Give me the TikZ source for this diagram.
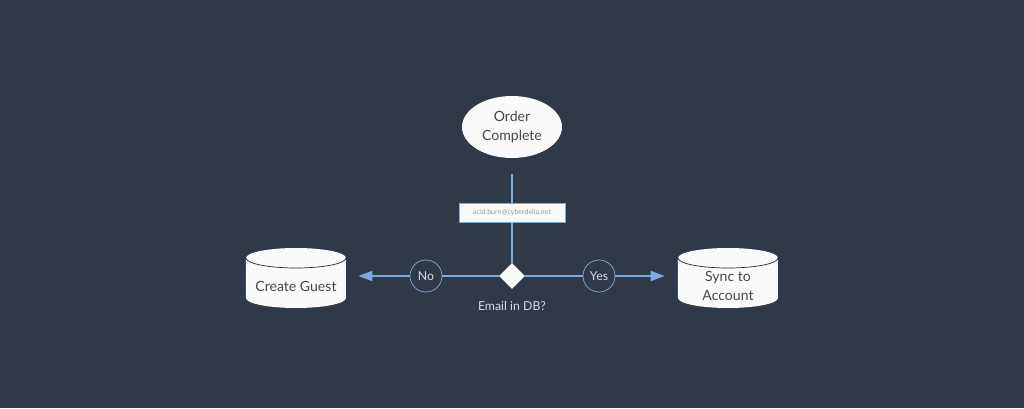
\documentclass[tikz,border=0pt]{standalone}
\usepackage{fontspec}
\setmainfont{Lato}
\usepackage{tikz}
\usetikzlibrary{arrows.meta,shapes.geometric,positioning}
\definecolor{dfbg}{RGB}{46,58,72}
\definecolor{dfline}{RGB}{126,172,222}
\definecolor{dftext}{RGB}{72,72,76}
\definecolor{dflight}{RGB}{214,220,226}
\definecolor{dfshape}{RGB}{250,250,250}
\tikzstyle{terminal} = [ellipse, minimum width=2cm, minimum height=1.24cm, fill=dfshape, text=dftext, align=center, font=\fontsize{8}{11}\selectfont, inner sep=0pt]
\tikzstyle{database} = [rectangle, minimum width=2cm, minimum height=1.7cm, inner sep=0pt, text=dftext, align=center, font=\fontsize{8}{11}\selectfont,
  path picture={
    \fill[dfshape] ([shift={(-1,0.56)}]path picture bounding box.center) arc[start angle=180, end angle=0, x radius=1, y radius=0.2]
      -- ++(0,-0.8) arc[start angle=0, end angle=-180, x radius=1, y radius=0.2] -- cycle;
    \draw[dfbg!70!black, thin] ([shift={(-1,0.56)}]path picture bounding box.center) arc[start angle=180, end angle=360, x radius=1, y radius=0.2];
  }]
\tikzstyle{decision} = [diamond, minimum width=0.52cm, minimum height=0.52cm, fill=dfshape, inner sep=0pt]
\tikzstyle{choice} = [circle, minimum size=0.64cm, draw=dfline, thin, fill=dfbg, text=dflight, font=\fontsize{7}{8}\selectfont, inner sep=0pt]
\tikzstyle{arrow} = [thick, -{Triangle[length=0.28cm, width=0.2cm]}, color=dfline]
\tikzstyle{link} = [thick, color=dfline]

\begin{document}
\begin{tikzpicture}
% Background
\fill[dfbg] (-10.24,-2.64) rectangle (10.24,5.52);
\useasboundingbox (-10.24,-2.64) rectangle (10.24,5.52);

% Decision and start
\node (dec) [decision] at (0,0) {};
\node (order) [terminal, above of=dec, node distance=2.98cm] {Order\\Complete};
\node (email) [below of=dec, node distance=0.6cm, text=dflight, font=\fontsize{7}{8}\selectfont] {Email in DB?};

% Branches
\node (no) [choice, left of=dec, node distance=1.72cm] {No};
\node (yes) [choice, right of=dec, node distance=1.74cm] {Yes};
\node (guest) [database, left of=dec, node distance=4.32cm, yshift=-0.2cm] {Create Guest};
\node (sync) [database, right of=dec, node distance=4.32cm, yshift=-0.2cm] {Sync to\\Account};

% Connectors
\draw[link, shorten <=0.32cm] (order) -- (dec);
\draw[link] (dec) -- (no);
\draw[arrow, shorten >=0.24cm] (no) -- (guest.east |- no);
\draw[link] (dec) -- (yes);
\draw[arrow, shorten >=0.26cm] (yes) -- (sync.west |- yes);

% Sample value
\node (sample) [above of=dec, node distance=1.27cm, fill=dfshape, draw=dfline, thin, minimum width=2.12cm, minimum height=0.38cm, text=black!40, font=\fontsize{4}{5}\selectfont] {acid.burn@cyberdelia.net};
\end{tikzpicture}
\end{document}
